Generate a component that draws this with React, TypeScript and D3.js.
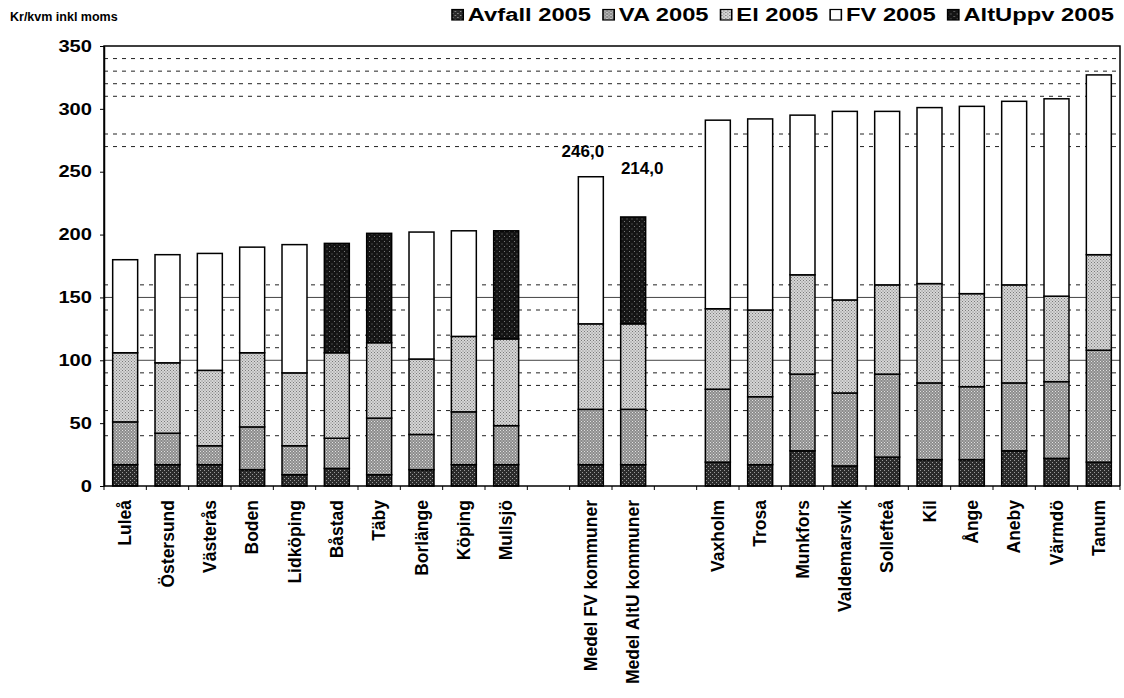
import React, { useEffect, useRef } from 'react';
import * as d3 from 'd3';

// categories, '' = empty slot between groups
const categories = [
  'Luleå', 'Östersund', 'Västerås', 'Boden', 'Lidköping', 'Båstad', 'Täby', 'Borlänge', 'Köping', 'Mullsjö',
  '', 'Medel FV kommuner', 'Medel AltU kommuner', '',
  'Vaxholm', 'Trosa', 'Munkfors', 'Valdemarsvik', 'Sollefteå', 'Kil', 'Ånge', 'Aneby', 'Värmdö', 'Tanum',
];

const avfall = [17, 17, 17, 13, 9, 14, 9, 13, 17, 17, 0, 17, 17, 0, 19, 17, 28, 16, 23, 21, 21, 28, 22, 19];
const va = [34, 25, 15, 34, 23, 24, 45, 28, 42, 31, 0, 44, 44, 0, 58, 54, 61, 58, 66, 61, 58, 54, 61, 89];
const el = [55, 56, 60, 59, 58, 68, 60, 60, 60, 69, 0, 68, 68, 0, 64, 69, 79, 74, 71, 79, 74, 78, 68, 76];
const fv = [74, 86, 93, 84, 102, 0, 0, 101, 84, 0, 0, 117, 0, 0, 150, 152, 127, 150, 138, 140, 149, 146, 157, 143];
const altUppv = [0, 0, 0, 0, 0, 87, 87, 0, 0, 86, 0, 0, 85, 0, 0, 0, 0, 0, 0, 0, 0, 0, 0, 0];

const seriesNames = ['Avfall 2005', 'VA 2005', 'El 2005', 'FV 2005', 'AltUppv 2005'];
const seriesFills = ['url(#pAvfall)', 'url(#pVA)', 'url(#pEl)', '#ffffff', 'url(#pAlt)'];

const yTicks = [0, 50, 100, 150, 200, 250, 300, 350];
const dashedLevels = [40, 60, 80, 90, 110, 120, 140, 160, 270, 280, 310, 320, 330, 340];
const solidLevels = [100, 150];

// total labels above the two average bars
const labelIndex = [11, 12];
const labelValues = [246, 214];
const labelTexts = ['246,0', '214,0'];

const font = '"Liberation Sans", Arial, sans-serif';

const App: React.FC = () => {
  const ref = useRef<SVGSVGElement>(null);

  useEffect(() => {
    const svg = d3.select(ref.current);
    svg.selectAll('*').remove();

    const width = 1124;
    const height = 698;
    const margin = { top: 46, right: 4, bottom: 212, left: 104 };
    const plotW = width - margin.left - margin.right;
    const plotH = height - margin.top - margin.bottom;

    // stipple patterns to mimic the scanned grey fills
    const defs = svg.append('defs');
    const makePattern = (id: string, bg: string, dot: string, size: number) => {
      const p = defs.append('pattern').attr('id', id).attr('width', size).attr('height', size)
        .attr('patternUnits', 'userSpaceOnUse');
      p.append('rect').attr('width', size).attr('height', size).attr('fill', bg);
      p.append('rect').attr('x', 0).attr('y', 0).attr('width', 1).attr('height', 1).attr('fill', dot);
      p.append('rect').attr('x', size / 2).attr('y', size / 2).attr('width', 1).attr('height', 1).attr('fill', dot);
    };
    makePattern('pAvfall', '#2b2b2b', '#9a9a9a', 4);
    makePattern('pVA', '#8c8c8c', '#e0e0e0', 3);
    makePattern('pEl', '#d6d6d6', '#7a7a7a', 3);
    makePattern('pAlt', '#141414', '#777777', 5);

    const g = svg.append('g').attr('transform', `translate(${margin.left},${margin.top})`);

    const x = d3.scaleBand<number>()
      .domain(categories.map((_, i) => i))
      .range([0, plotW])
      .paddingInner(0.41)
      .paddingOuter(0.205);
    const y = d3.scaleLinear().domain([0, 350]).range([plotH, 0]);

    // grid lines
    g.selectAll('.dash').data(dashedLevels).enter().append('line')
      .attr('x1', 0).attr('x2', plotW)
      .attr('y1', d => y(d)).attr('y2', d => y(d))
      .attr('stroke', '#222').attr('stroke-width', 1)
      .attr('stroke-dasharray', '4,5');
    g.selectAll('.solid').data(solidLevels).enter().append('line')
      .attr('x1', 0).attr('x2', plotW)
      .attr('y1', d => y(d)).attr('y2', d => y(d))
      .attr('stroke', '#444').attr('stroke-width', 1);

    // stacked bars
    const rows = categories.map((c, i) => ({
      i, c, vals: [avfall[i], va[i], el[i], fv[i], altUppv[i]],
    }));
    const stack = d3.stack<any>().keys([0, 1, 2, 3, 4] as any).value((d, k) => d.vals[k as any]);
    const layers = stack(rows);
    layers.forEach((layer, k) => {
      g.append('g').selectAll('rect')
        .data(layer.filter(d => d[1] - d[0] > 0))
        .enter().append('rect')
        .attr('x', d => x((d as any).data.i)!)
        .attr('width', x.bandwidth())
        .attr('y', d => y(d[1]))
        .attr('height', d => y(d[0]) - y(d[1]))
        .attr('fill', seriesFills[k])
        .attr('stroke', '#000')
        .attr('stroke-width', 1.5);
    });

    // value labels (offsets as placed in the original)
    const labelDx = [-8, 9];
    const labelDy = [-20, -43];
    labelIndex.forEach((idx, j) => {
      g.append('text')
        .attr('x', x(idx)! + x.bandwidth() / 2 + labelDx[j])
        .attr('y', y(labelValues[j]) + labelDy[j])
        .attr('text-anchor', 'middle')
        .attr('font-family', font).attr('font-weight', 'bold').attr('font-size', 17)
        .text(labelTexts[j]);
    });

    // frame
    g.append('path')
      .attr('d', `M0,${plotH}V0H${plotW}V${plotH}`)
      .attr('fill', 'none').attr('stroke', '#000').attr('stroke-width', 1.5);

    // y axis
    const yAxis = g.append('g')
      .call(d3.axisLeft(y).tickValues(yTicks).tickSize(4).tickSizeOuter(0));
    yAxis.select('.domain').attr('stroke', '#000').attr('stroke-width', 1.5);
    yAxis.selectAll('text')
      .attr('font-family', font).attr('font-weight', 'bold').attr('font-size', 16.5)
      .attr('fill', '#000').attr('x', 0)
      .attr('transform', 'translate(-12,0) scale(1.22,1)');

    // x axis: line + ticks at slot boundaries
    const xAxis = g.append('g').attr('transform', `translate(0,${plotH})`);
    xAxis.append('line').attr('x1', 0).attr('x2', plotW).attr('stroke', '#000').attr('stroke-width', 1.5);
    const step = x.step();
    xAxis.selectAll('.tk').data(d3.range(categories.length + 1)).enter().append('line')
      .attr('x1', d => d * step).attr('x2', d => d * step)
      .attr('y1', 0).attr('y2', 4).attr('stroke', '#000');
    xAxis.selectAll('.xl').data(rows.filter(r => r.c !== '')).enter().append('text')
      .attr('transform', d => `translate(${x(d.i)! + x.bandwidth() / 2 + 6},14) rotate(-90)`)
      .attr('text-anchor', 'end')
      .attr('font-family', font).attr('font-weight', 'bold').attr('font-size', 17.5)
      .text(d => d.c);

    // y title
    svg.append('text')
      .attr('x', 10).attr('y', 21)
      .attr('font-family', font).attr('font-weight', 'bold').attr('font-size', 12.5)
      .text('Kr/kvm inkl moms');

    // legend, laid out left to right then stretched to span the original width
    const legendLeft = 452;
    const legendRight = 1114;
    const legend = svg.append('g');
    const inner = legend.append('g');
    let cursor = 0;
    seriesNames.forEach((name, k) => {
      inner.append('rect')
        .attr('x', cursor).attr('y', -11.5)
        .attr('width', 8.5).attr('height', 10.5)
        .attr('fill', seriesFills[k]).attr('stroke', '#000').attr('stroke-width', 1.2);
      const t = inner.append('text')
        .attr('x', cursor + 12)
        .attr('font-family', font).attr('font-weight', 'bold').attr('font-size', 18)
        .text(name);
      const w = (t.node() as SVGTextElement).getComputedTextLength();
      cursor += 12 + w + (k < seriesNames.length - 1 ? 9 : 0);
    });
    const sx = (legendRight - legendLeft) / cursor;
    legend.attr('transform', `translate(${legendLeft},21) scale(${sx},1)`);
  }, []);

  return (
    <svg ref={ref} width={1124} height={698}
      style={{ position: 'absolute', left: 0, top: 0, background: '#fff' }} />
  );
};

export default App;
